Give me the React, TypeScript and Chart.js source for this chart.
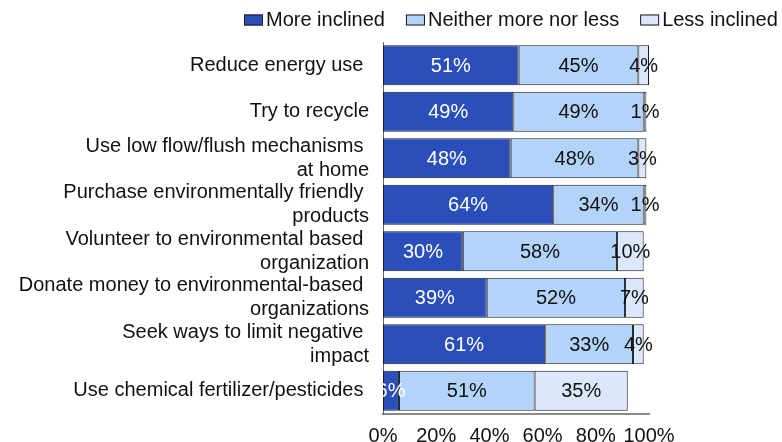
import React, { useEffect, useRef } from 'react';
import { Chart, registerables } from 'chart.js';

Chart.register(...registerables);

const categories: string[][] = [
  ['Reduce energy use '],
  ['Try to recycle'],
  ['Use low flow/flush mechanisms ', 'at home'],
  ['Purchase environmentally friendly ', 'products'],
  ['Volunteer to environmental based ', 'organization'],
  ['Donate money to environmental-based ', 'organizations'],
  ['Seek ways to limit negative ', 'impact'],
  ['Use chemical fertilizer/pesticides '],
];

const seriesNames = ['More inclined', 'Neither more nor less', 'Less inclined'];
const moreInclined = [51, 49, 48, 64, 30, 39, 61, 6];
const neither = [45, 49, 48, 34, 58, 52, 33, 51];
const lessInclined = [4, 1, 3, 1, 10, 7, 4, 35];
const xTicks = [0, 20, 40, 60, 80, 100];

const colors = ['#2A4FBA', '#B3D4FA', '#DAE7FC'];
const labelColors = ['#ffffff', '#111111', '#111111'];
const FONT = '"Liberation Sans", Arial, sans-serif';

const legendPlugin = {
  id: 'customLegend',
  afterDraw(chart: any) {
    const ctx = chart.ctx;
    ctx.save();
    ctx.font = `20px ${FONT}`;
    ctx.textBaseline = 'middle';
    ctx.textAlign = 'left';
    const boxW = 19, boxH = 11, boxGap = 3, itemGap = 21;
    let x = 244;
    const y = 20;
    seriesNames.forEach((n, i) => {
      ctx.fillStyle = colors[i];
      ctx.fillRect(x, y - boxH / 2, boxW, boxH);
      ctx.strokeStyle = '#1a1a1a';
      ctx.lineWidth = 1;
      ctx.strokeRect(x + 0.5, y - boxH / 2 + 0.5, boxW - 1, boxH - 1);
      x += boxW + boxGap;
      ctx.fillStyle = '#111111';
      ctx.fillText(n, x, y);
      x += ctx.measureText(n).width + itemGap;
    });
    ctx.restore();
  },
};

const dataLabelPlugin = {
  id: 'segLabels',
  afterDatasetsDraw(chart: any) {
    const ctx = chart.ctx;
    const area = chart.chartArea;
    ctx.save();
    ctx.beginPath();
    ctx.rect(area.left, 0, chart.width - area.left, chart.height);
    ctx.clip();
    ctx.font = `20px ${FONT}`;
    ctx.textAlign = 'center';
    ctx.textBaseline = 'middle';
    chart.data.datasets.forEach((ds: any, di: number) => {
      const meta = chart.getDatasetMeta(di);
      meta.data.forEach((bar: any, i: number) => {
        const v = ds.data[i];
        const cx = (bar.x + bar.base) / 2;
        ctx.fillStyle = labelColors[di];
        ctx.fillText(`${v}%`, cx, bar.y + 1);
      });
    });
    ctx.restore();
  },
};

export default function App() {
  const ref = useRef<HTMLCanvasElement>(null);
  useEffect(() => {
    document.body.style.margin = '0';
    const chart = new Chart(ref.current as HTMLCanvasElement, {
      type: 'bar',
      data: {
        labels: categories,
        datasets: [moreInclined, neither, lessInclined].map((d, i) => ({
          label: seriesNames[i],
          data: d,
          backgroundColor: colors[i],
          borderColor: '#1a1a1a',
          borderWidth: 1,
          borderSkipped: false,
          barPercentage: 0.86,
          categoryPercentage: 1,
        })),
      },
      options: {
        indexAxis: 'y',
        responsive: false,
        animation: false,
        devicePixelRatio: 1,
        layout: { padding: { top: 42, right: 133, bottom: 0, left: 0 } },
        plugins: { legend: { display: false }, tooltip: { enabled: false } },
        scales: {
          x: {
            stacked: true,
            min: 0,
            max: 100,
            afterBuildTicks: (s: any) => {
              s.ticks = xTicks.map((v) => ({ value: v }));
            },
            afterFit: (s: any) => {
              s.height = 28;
            },
            grid: { display: false, drawTicks: false },
            border: { display: true, color: '#8a8a8a', width: 2 },
            ticks: {
              padding: 10,
              color: '#111111',
              font: { family: FONT, size: 20 },
              callback: (v: any) => `${v}%`,
              maxRotation: 0,
              autoSkip: false,
            },
          },
          y: {
            stacked: true,
            afterFit: (s: any) => {
              s.width = 383;
            },
            grid: { display: false, drawTicks: false },
            border: { display: true, color: '#666666', width: 1 },
            ticks: {
              padding: 14,
              color: '#111111',
              font: { family: FONT, size: 20 },
              autoSkip: false,
            },
          },
        },
      },
      plugins: [dataLabelPlugin, legendPlugin],
    });
    return () => chart.destroy();
  }, []);
  return (
    <div style={{ width: 782, height: 442 }}>
      <canvas ref={ref} width={782} height={442} />
    </div>
  );
}
